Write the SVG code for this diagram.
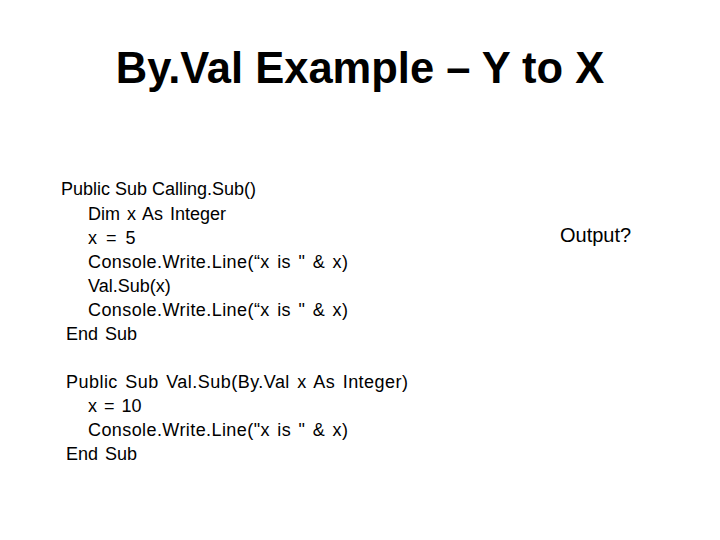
<svg xmlns="http://www.w3.org/2000/svg" width="720" height="540" viewBox="0 0 720 540">
<style>
.t{font-family:"Liberation Sans",Arial,sans-serif;fill:#000}
.c{font-size:18px;word-spacing:2px}
</style>
<rect width="720" height="540" fill="#fff"/>
<text class="t" x="360" y="83" font-size="43.5" font-weight="bold" text-anchor="middle">By.Val Example – Y to X</text>
<g class="t c">
<text x="61" y="195" word-spacing="0">Public Sub Calling.Sub()</text>
<text x="88" y="220">Dim x As Integer</text>
<text x="88" y="244" word-spacing="4">x = 5</text>
<text x="88" y="268" textLength="260">Console.Write.Line(“x is " &amp; x)</text>
<text x="88" y="292">Val.Sub(x)</text>
<text x="88" y="316" textLength="260">Console.Write.Line(“x is " &amp; x)</text>
<text x="66" y="340">End Sub</text>
<text x="66" y="388" textLength="342">Public Sub Val.Sub(By.Val x As Integer)</text>
<text x="88" y="412">x = 10</text>
<text x="88" y="436" textLength="260">Console.Write.Line("x is " &amp; x)</text>
<text x="66" y="460">End Sub</text>
</g>
<text class="t" x="560" y="242" font-size="20">Output?</text>
</svg>
